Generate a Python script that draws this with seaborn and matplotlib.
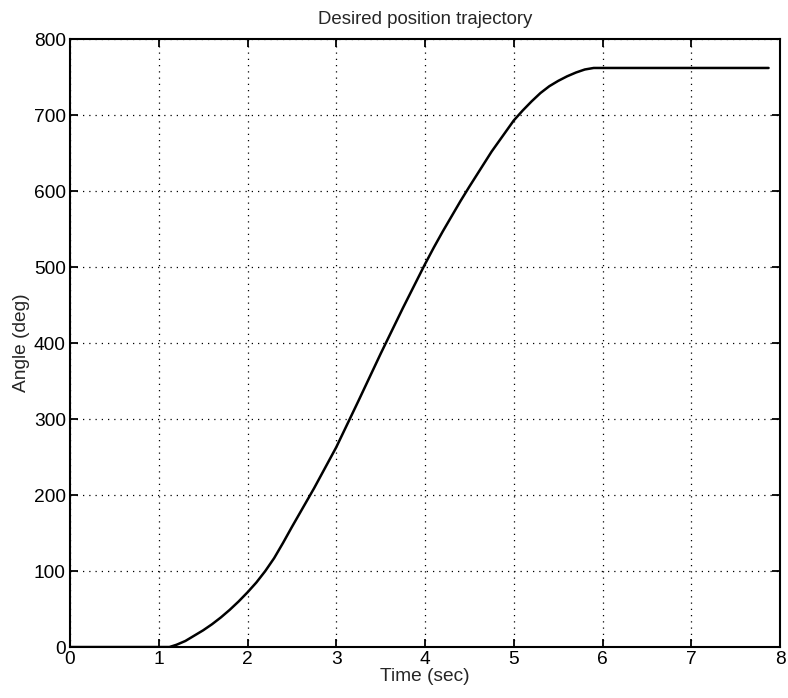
import numpy as np
import pandas as pd
import matplotlib
matplotlib.use('Agg')
import matplotlib.pyplot as plt
import seaborn as sns

# values
time_sec = [0.0, 1.0, 1.12, 1.2, 1.3, 1.4, 1.5, 1.6, 1.7, 1.8, 1.9, 2.0,
            2.1, 2.2, 2.3, 2.4, 2.5, 2.75, 3.0, 3.25, 3.5, 3.75, 4.0, 4.1,
            4.2, 4.3, 4.4, 4.5, 4.75, 5.0, 5.1, 5.2, 5.3, 5.4, 5.5, 5.6,
            5.7, 5.8, 5.9, 6.0, 7.0, 7.87]
angle_deg = [0, 0, 0, 3, 8, 15, 22, 30, 39, 49, 60, 72,
             85, 100, 117, 137, 158, 209, 263, 324, 386, 446, 504, 526,
             547, 567, 587, 606, 652, 693, 706, 718, 729, 738, 745, 751,
             756, 760, 762, 762, 762, 762]
x_ticks = [0, 1, 2, 3, 4, 5, 6, 7, 8]
y_ticks = [0, 100, 200, 300, 400, 500, 600, 700, 800]

df = pd.DataFrame({'Time': time_sec, 'Angle': angle_deg})

sns.set_style('ticks')
plt.rcParams['font.family'] = ['Liberation Sans', 'DejaVu Sans']

fig = plt.figure(figsize=(7.88, 6.98), dpi=100)
ax = fig.add_axes([0.0888, 0.073, 0.9012, 0.871])

sns.lineplot(x='Time', y='Angle', data=df, ax=ax, color='black',
             linewidth=1.8, estimator=None)

ax.set_xlim(0, 8)
ax.set_ylim(0, 800)
ax.set_xticks(x_ticks)
ax.set_yticks(y_ticks)
ax.grid(True, color='black', linestyle=(0, (1, 4)), linewidth=0.9)

for s in ax.spines.values():
    s.set_visible(True)
    s.set_linewidth(1.5)
    s.set_color('black')

ax.tick_params(direction='in', length=6, width=1.3, top=True, right=True,
               labelsize=13.8, colors='black', pad=3)

ax.set_xlabel('Time (sec)', fontsize=13.8, labelpad=0)
ax.set_ylabel('Angle (deg)', fontsize=13.8, labelpad=3)
ax.set_title('Desired position trajectory', fontsize=13.4, pad=11)

fig.savefig('out.png', dpi=100)
